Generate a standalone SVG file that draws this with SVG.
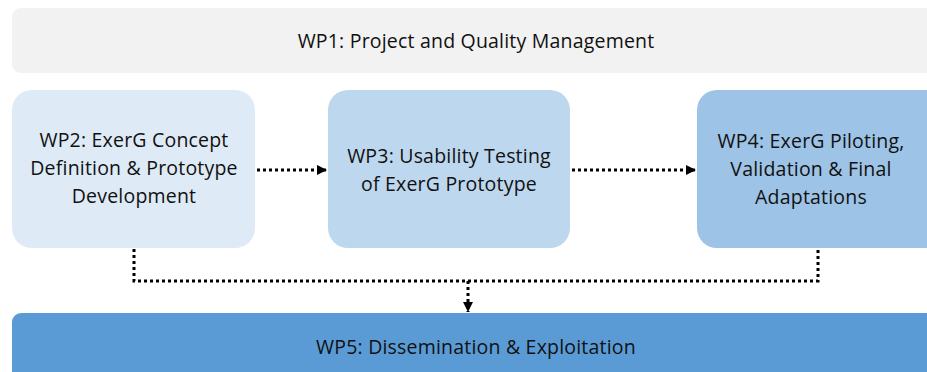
<svg xmlns="http://www.w3.org/2000/svg" width="927" height="372" viewBox="0 0 927 372">
  <style>
    .label { font-family: "Open Sans", "Liberation Sans", sans-serif; font-size: 19.5px; letter-spacing: 0.2px; fill: #111111; text-anchor: middle; }
    .link { fill: none; stroke: #000000; stroke-width: 3; stroke-dasharray: 3 3; }
  </style>
  <defs>
    <marker id="head" viewBox="0 0 10 10" refX="10" refY="5" markerWidth="10" markerHeight="10" markerUnits="userSpaceOnUse" orient="auto">
      <path d="M0,0 L10,5 L0,10 Z" fill="#000000"/>
    </marker>
  </defs>
  <rect width="927" height="372" fill="#ffffff"/>

  <g id="wp1">
    <rect x="12" y="8" width="930" height="65" rx="9" fill="#F2F2F2"/>
    <text class="label" x="476" y="48">WP1: Project and Quality Management</text>
  </g>

  <g id="wp2">
    <rect x="12" y="90" width="243" height="158" rx="20" fill="#DEEBF7"/>
    <text class="label" x="134" y="147">WP2: ExerG Concept</text>
    <text class="label" x="134" y="175">Definition &amp; Prototype</text>
    <text class="label" x="134" y="203">Development</text>
  </g>

  <g id="wp3">
    <rect x="328" y="90" width="242" height="158" rx="20" fill="#BDD7EE"/>
    <text class="label" x="449" y="163">WP3: Usability Testing</text>
    <text class="label" x="449" y="191">of ExerG Prototype</text>
  </g>

  <g id="wp4">
    <rect x="697" y="90" width="250" height="158" rx="20" fill="#9DC3E6"/>
    <text class="label" x="811" y="148">WP4: ExerG Piloting,</text>
    <text class="label" x="811" y="176">Validation &amp; Final</text>
    <text class="label" x="811" y="204">Adaptations</text>
  </g>

  <g id="wp5">
    <rect x="12" y="313" width="940" height="80" rx="9" fill="#5B9BD5"/>
    <text class="label" x="476" y="354">WP5: Dissemination &amp; Exploitation</text>
  </g>

  <g id="connectors">
    <path class="link" d="M257,170 H327" marker-end="url(#head)"/>
    <path class="link" d="M572,170 H696" marker-end="url(#head)"/>
    <path class="link" d="M134,249 V281 H818 V249"/>
    <path class="link" d="M468,281 V312" marker-end="url(#head)"/>
  </g>
</svg>
